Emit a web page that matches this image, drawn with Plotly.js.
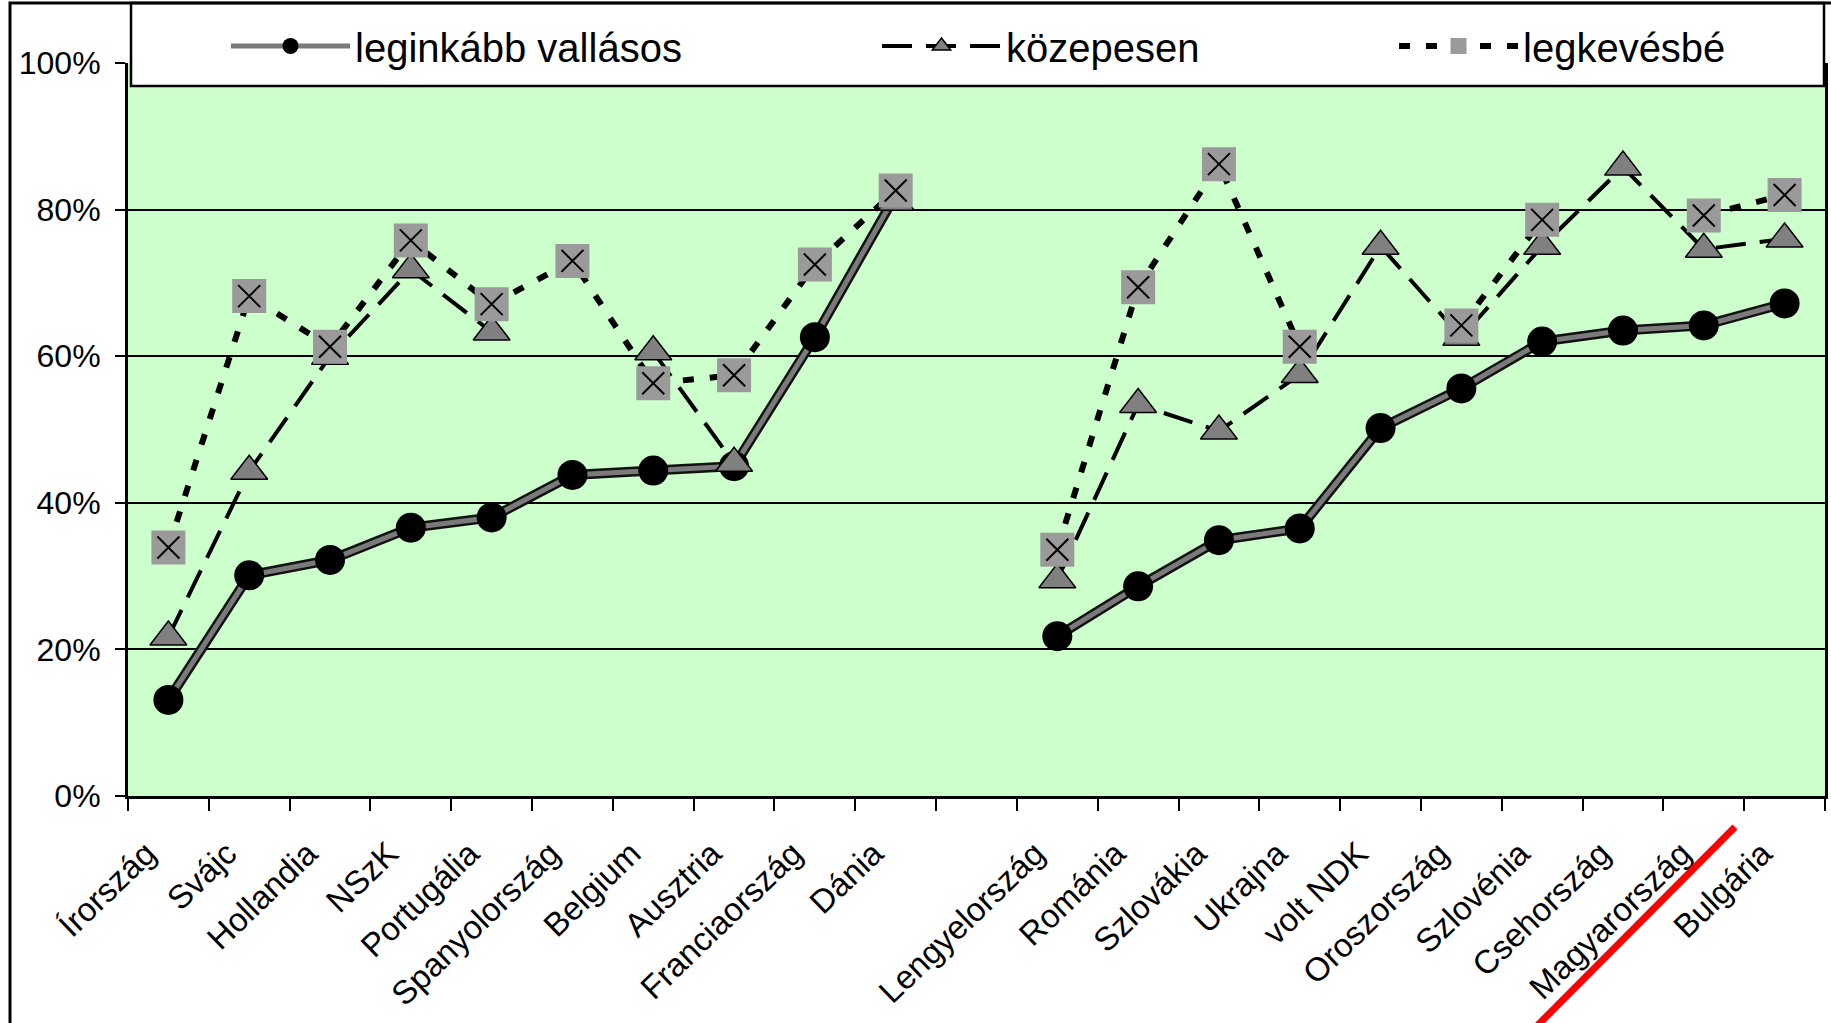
<!DOCTYPE html>
<html>
<head>
<meta charset="utf-8">
<script src="https://cdn.plot.ly/plotly-3.0.1.min.js"></script>
<style>html,body{margin:0;padding:0;background:#fff;}#chart{width:1831px;height:1023px;}</style>
</head>
<body>
<div id="chart"></div>
<script>
// ---- data ----
const categories = ["Írország","Svájc","Hollandia","NSzK","Portugália","Spanyolország","Belgium","Ausztria","Franciaország","Dánia"," ","Lengyelország","Románia","Szlovákia","Ukrajna","volt NDK","Oroszország","Szlovénia","Csehország","Magyarország","Bulgária"];
const leginkabbVallasos = [13.1,30.1,32.2,36.6,38.0,43.8,44.4,45.0,62.6,82.0,null,21.8,28.6,34.9,36.5,50.2,55.6,62.0,63.5,64.2,67.2];
const kozepesen        = [21.7,44.3,60.0,71.8,63.3,null,60.6,45.4,null,81.0,null,29.5,53.4,49.8,57.5,75.0,62.6,75.0,85.8,74.6,76.0];
const legkevesbe       = [33.9,68.2,61.3,75.8,67.1,73.0,56.3,57.4,72.5,82.6,null,33.6,69.4,86.2,61.3,null,64.2,78.6,null,79.2,82.0];
const seriesNames = ["leginkább vallásos","közepesen","legkevésbé"];
const yTicks = [0,20,40,60,80,100];
const yTickLabels = ["0%","20%","40%","60%","80%","100%"];

// ---- layout geometry ----
const W = 1831, H = 1023;
const M = {l:128, r:6, t:63, b:227};
const PW = W - M.l - M.r, PH = H - M.t - M.b;
const px = X => (X - M.l) / PW;
const py = Y => (H - M.b - Y) / PH;
const FONT = "Liberation Sans, Arial, sans-serif";

const traces = [
  {x:categories, y:leginkabbVallasos, type:'scatter', mode:'lines', showlegend:false,
   line:{color:'#111', width:10}, hoverinfo:'skip'},
  {x:categories, y:leginkabbVallasos, type:'scatter', mode:'lines+markers', name:seriesNames[0], legend:'legend',
   line:{color:'#7a7a7a', width:5}, marker:{symbol:'circle', size:30, color:'#000'}},
  {x:categories, y:kozepesen, type:'scatter', mode:'lines+markers', name:seriesNames[1], legend:'legend2',
   line:{color:'#000', width:4, dash:'30px,14px'},
   marker:{symbol:'triangle-up', size:32, color:'#808080', line:{color:'#000', width:1.5}}},
  {x:categories, y:legkevesbe, type:'scatter', mode:'lines+markers', name:seriesNames[2], legend:'legend3',
   line:{color:'#000', width:6, dash:'11px,16px'},
   marker:{symbol:'square', size:34, color:'#9a9a9a', line:{width:0}}},
  {x:categories, y:legkevesbe, type:'scatter', mode:'markers', showlegend:false,
   marker:{symbol:'x-thin', size:22, color:'#000', line:{color:'#000', width:2}}}
];

const legendBase = {orientation:'h', bgcolor:'rgba(0,0,0,0)', borderwidth:0,
  font:{family:FONT, size:40, color:'#000'}, itemwidth:119, xanchor:'left', yanchor:'middle', y:py(46)};

const layout = {
  width:W, height:H, margin:M,
  paper_bgcolor:'#fff', plot_bgcolor:'#CCFFCC',
  font:{family:FONT, color:'#000'},
  hovermode:false,
  legend: Object.assign({}, legendBase, {x:px(226)}),
  legend2: Object.assign({}, legendBase, {x:px(877)}),
  legend3: Object.assign({}, legendBase, {x:px(1394)}),
  xaxis:{type:'category', range:[-0.5, categories.length - 0.5], autorange:false,
    tickson:'boundaries', ticks:'outside', ticklen:12, tickwidth:2, tickcolor:'#000',
    tickangle:-44, tickfont:{family:FONT, size:33, color:'#000'}, showline:true, linecolor:'#000', linewidth:3,
    showgrid:false, zeroline:false, fixedrange:true, automargin:false, ticklabelstandoff:22, ticklabelshift:-22},
  yaxis:{range:[0,100], autorange:false, tickmode:'array', tickvals:yTicks, ticktext:yTickLabels,
    ticks:'outside', ticklen:10, tickwidth:2, tickcolor:'#000',
    tickfont:{family:FONT, size:32, color:'#000'}, showline:true, mirror:true, linecolor:'#000', linewidth:3,
    showgrid:true, gridcolor:'#000', gridwidth:2, zeroline:false, fixedrange:true, automargin:false, ticklabelstandoff:8},
  shapes:[
    {type:'rect', xref:'paper', yref:'paper', x0:px(131), x1:px(1824), y0:py(86), y1:py(3),
     fillcolor:'#fff', line:{color:'#000', width:2.5}, layer:'above'},
    {type:'rect', xref:'paper', yref:'paper', x0:px(10), x1:px(1870), y0:py(1070), y1:py(3),
     fillcolor:'rgba(0,0,0,0)', line:{color:'#000', width:3}, layer:'above'},
    {type:'line', xref:'paper', yref:'paper', x0:px(1735), y0:py(827), x1:px(1515), y1:py(1048),
     line:{color:'#FF0000', width:7}, layer:'above'}
  ]
};

Plotly.newPlot('chart', traces, layout, {staticPlot:true, displayModeBar:false});
</script>
</body>
</html>
